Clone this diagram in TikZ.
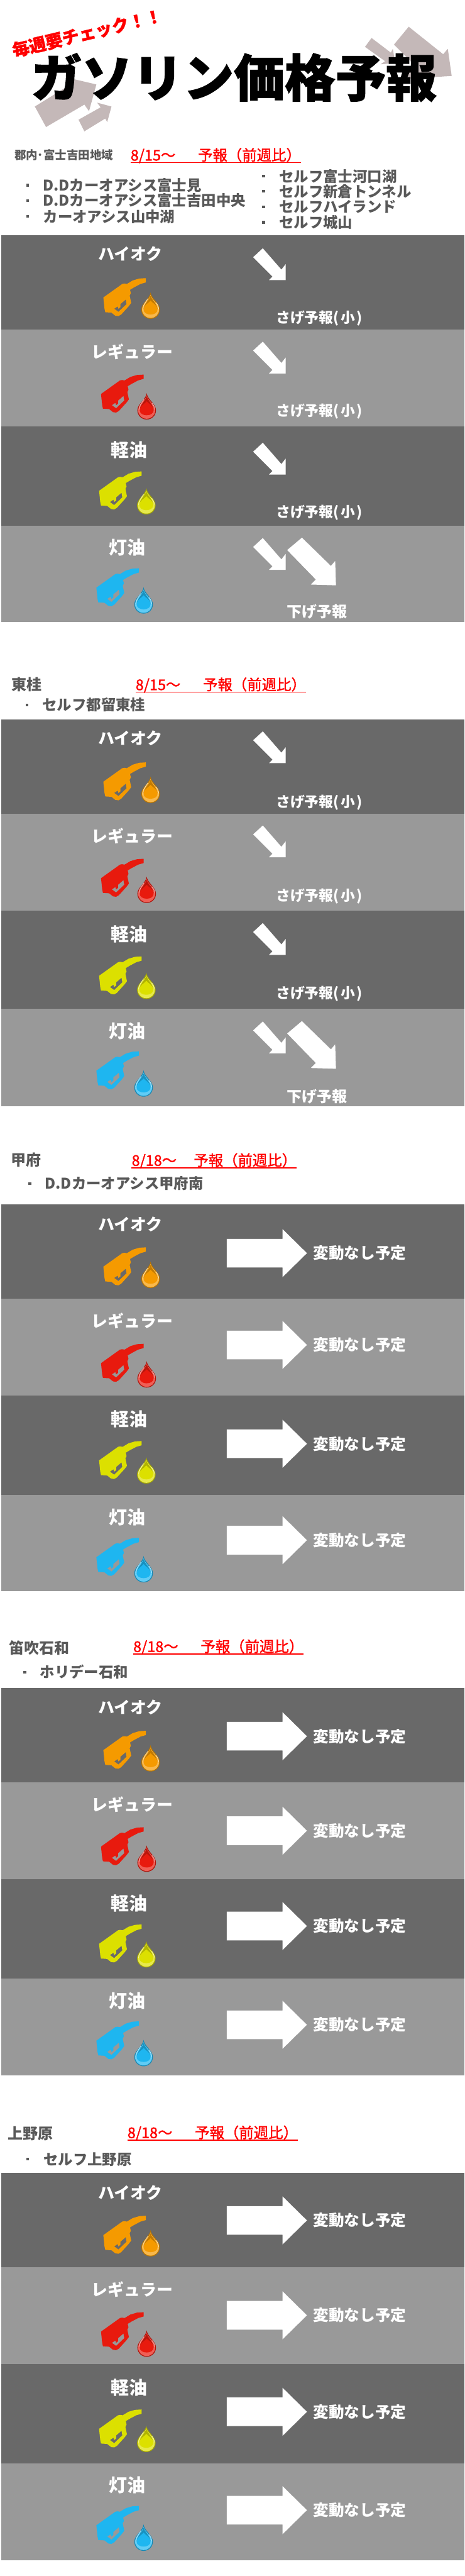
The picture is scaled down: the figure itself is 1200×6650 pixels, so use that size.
\documentclass[tikz,border=0pt]{standalone}
\usepackage{fontspec}
\setmainfont{Noto Sans CJK JP}
\newfontfamily\heavyjp[BoldFeatures={FakeBold=1.5}]{Noto Sans CJK JP}
\newfontfamily\datejp[FakeBold=1.4]{Noto Sans CJK JP}
\definecolor{banddark}{HTML}{696969}
\definecolor{bandlight}{HTML}{999999}
\definecolor{txtgray}{HTML}{595959}
\definecolor{greyarrow}{HTML}{C4B8B8}
\definecolor{fuelhi}{HTML}{F59A00}
\definecolor{fuelreg}{HTML}{E81A0E}
\definecolor{fueldsl}{HTML}{DCE000}
\definecolor{fuelker}{HTML}{1EB6F0}
\tikzset{
  jpsize/.style={font=\fontsize{#1}{#1}\selectfont\bfseries,text height=0.88*#1 pt,text depth=0.12*#1 pt,inner sep=0pt},
  fuellabel/.style={jpsize=21,text=white},
  oillabel/.style={jpsize=23.5,text=white},
  downlabel/.style={jpsize=18.5,text=white,anchor=west},
  biglabel/.style={jpsize=19.5,text=white,anchor=west},
  flatlabel/.style={jpsize=20,text=white,anchor=west},
  arealabel/.style={jpsize=19.5,text=txtgray,anchor=west},
  shoplabel/.style={jpsize=19,text=txtgray,anchor=west},
  datelabel/.style={jpsize=19,font=\datejp\fontsize{19}{19}\selectfont,text=red,anchor=west},
  dateline/.style={draw=red,line width=1.3pt},
  dotmark/.style={fill=txtgray,minimum size=3.5pt,inner sep=0pt},
  pics/pump/.style={code={
    \fill[#1,even odd rule] (110,0) -- (110,11) -- (96,15) -- (79,24) -- (69,30) -- (71,39) -- (68,45) -- (72,64) -- (66,72) -- (46,94) -- (39,98) -- (31,97) -- (21,89) -- (5,88) -- (3,79) -- (0,50) -- (49,15) -- (54,14) -- (61,15) -- (76,6) -- (93,1) -- cycle
      (28,79) -- (37,73) -- (39,79) -- (44,75) -- (44,67) -- (58,55) -- (60,67) -- (39,87) -- cycle;
  }},
  pics/oildrop/.style={code={
    \fill[#1!75!black] (24,0) .. controls (22,16) and (0,28) .. (0,44) .. controls (0,58) and (11,68) .. (24,68) .. controls (37,68) and (48,58) .. (48,44) .. controls (48,28) and (26,16) .. (24,0) -- cycle;
    \fill[#1!70!white] (24,6) .. controls (22,18) and (2,29) .. (2,44) .. controls (2,57) and (12,66) .. (24,66) .. controls (36,66) and (46,57) .. (46,44) .. controls (46,29) and (26,18) .. (24,6) -- cycle;
    \fill[#1!80!black] (24,8) .. controls (22,18) and (8,28) .. (6,42) -- (42,42) .. controls (40,28) and (26,18) .. (24,8) -- cycle;
    \fill[#1] (24,21) .. controls (20,27) and (6,32) .. (6,44) .. controls (6,52) and (14,57) .. (24,57) .. controls (34,57) and (42,52) .. (42,44) .. controls (42,32) and (28,27) .. (24,21) -- cycle;
    \draw[white!70!#1,line width=0.6pt] (17,16) .. controls (12,24) and (4,32) .. (4,43);
    \draw[white!70!#1,line width=0.6pt] (38,26) .. controls (42,31) and (45,37) .. (45,43);
  }},
  pics/downsmall/.style={code={
    \fill[white] (0,23) -- (25,0) -- (73,55) -- (84,41) -- (84,82) -- (41,82) -- (50,73) -- cycle;
  }},
  pics/downbig/.style={code={
    \fill[white] (0,32) -- (38,0) -- (113,73) -- (124,60) -- (126,123) -- (61,121) -- (74,108) -- cycle;
  }},
  pics/flatarrow/.style={code={
    \fill[white] (0,-37) -- (144,-37) -- (144,-62) -- (207,0) -- (144,62) -- (144,37) -- (0,37) -- cycle;
  }}
}
\begin{document}
\begin{tikzpicture}[x=0.5pt,y=-0.5pt]
\useasboundingbox (0,0) rectangle (1200,6650);
% title
\fill[greyarrow] (90,275) -- (174,223) -- (181,202) -- (249,218) -- (230,287) -- (218,270) -- (119,328) -- cycle;
\fill[greyarrow] (203,309) -- (260,277) -- (251,265) -- (288,275) -- (277,315) -- (272,306) -- (218,339) -- cycle;
\fill[greyarrow] (1056,69) -- (1145,140) -- (1157,126) -- (1167,196) -- (1029,205) -- (1067,164) -- (1018,115) -- cycle;
\fill[greyarrow] (960,98) -- (1010,136) -- (1015,126) -- (1021,163) -- (983,166) -- (995,158) -- (943,121) -- cycle;
\node [jpsize=65.5, anchor=west] (title) at (80,200) {\heavyjp\bfseries ガソリン価格予報};
\node [jpsize=22, text=red, rotate=13.4] (weekly) at (225,85) {\heavyjp\bfseries 毎週要チェック！！};
% section 1
\node [jpsize=15, text=txtgray, anchor=west] (area1) at (37,400) {郡内･富士吉田地域};
\node [datelabel] (date1) at (337,400) {8/15～\hspace{29pt}予報（前週比）\hspace{5pt}};
\draw [dateline] (date1.south west) -- (date1.south east);
\node [dotmark] (dot1a) at (71,478) {};
\node [shoplabel] (shop1a) at (111,478) {D.Dカーオアシス富士見};
\node [dotmark] (dot1b) at (71,518) {};
\node [shoplabel] (shop1b) at (111,518) {D.Dカーオアシス富士吉田中央};
\node [dotmark] (dot1c) at (71,559) {};
\node [shoplabel] (shop1c) at (111,559) {カーオアシス山中湖};
\node [dotmark] (dot1d) at (681,455) {};
\node [shoplabel] (shop1d) at (721,455) {セルフ富士河口湖};
\node [dotmark] (dot1e) at (681,494) {};
\node [shoplabel] (shop1e) at (721,494) {セルフ新倉トンネル};
\node [dotmark] (dot1f) at (681,534) {};
\node [shoplabel] (shop1f) at (721,534) {セルフハイランド};
\node [dotmark] (dot1g) at (681,574) {};
\node [shoplabel] (shop1g) at (721,574) {セルフ城山};
\fill [banddark] (4,607) rectangle (1200,851);
\fill [bandlight] (4,851) rectangle (1200,1101);
\fill [banddark] (4,1101) rectangle (1200,1357);
\fill [bandlight] (4,1357) rectangle (1200,1606);
\node [fuellabel] (hi1) at (337,656) {ハイオク};
\pic at (267,718) {pump=fuelhi};
\pic at (365,755) {oildrop=fuelhi};
\pic at (654,641) {downsmall};
\node [downlabel] (say1a) at (713,820) {さげ予報(\kern2pt 小\kern2pt )};
\node [fuellabel] (reg1) at (342,908) {レギュラー};
\pic at (261,967) {pump=fuelreg};
\pic at (355,1015) {oildrop=fuelreg};
\pic at (654,882) {downsmall};
\node [downlabel] (say1b) at (713,1060) {さげ予報(\kern2pt 小\kern2pt )};
\node [oillabel] (dsl1) at (334,1162) {軽油};
\pic at (256,1217) {pump=fueldsl};
\pic at (354,1260) {oildrop=fueldsl};
\pic at (654,1143) {downsmall};
\node [downlabel] (say1c) at (713,1321) {さげ予報(\kern2pt 小\kern2pt )};
\node [oillabel] (ker1) at (329,1414) {灯油};
\pic at (249,1467) {pump=fuelker};
\pic at (347,1516) {oildrop=fuelker};
\pic at (654,1389) {downsmall};
\pic at (742,1388) {downbig};
\node [biglabel] (say1d) at (741,1579) {下げ予報};
% section 2
\node [arealabel] (area2) at (29,1767) {東桂};
\node [datelabel] (date2) at (350,1767) {8/15～\hspace{29pt}予報（前週比）\hspace{5pt}};
\draw [dateline] (date2.south west) -- (date2.south east);
\node [dotmark] (dot2a) at (70,1820) {};
\node [shoplabel] (shop2a) at (109,1820) {セルフ都留東桂};
\fill [banddark] (4,1857) rectangle (1200,2101);
\fill [bandlight] (4,2101) rectangle (1200,2351);
\fill [banddark] (4,2351) rectangle (1200,2604);
\fill [bandlight] (4,2604) rectangle (1200,2856);
\node [fuellabel] (hi2) at (337,1906) {ハイオク};
\pic at (267,1968) {pump=fuelhi};
\pic at (365,2005) {oildrop=fuelhi};
\pic at (654,1888) {downsmall};
\node [downlabel] (say2a) at (713,2069) {さげ予報(\kern2pt 小\kern2pt )};
\node [fuellabel] (reg2) at (342,2158) {レギュラー};
\pic at (261,2217) {pump=fuelreg};
\pic at (355,2263) {oildrop=fuelreg};
\pic at (654,2131) {downsmall};
\node [downlabel] (say2b) at (713,2311) {さげ予報(\kern2pt 小\kern2pt )};
\node [oillabel] (dsl2) at (334,2412) {軽油};
\pic at (256,2469) {pump=fueldsl};
\pic at (354,2511) {oildrop=fueldsl};
\pic at (654,2383) {downsmall};
\node [downlabel] (say2c) at (713,2563) {さげ予報(\kern2pt 小\kern2pt )};
\node [oillabel] (ker2) at (329,2661) {灯油};
\pic at (249,2714) {pump=fuelker};
\pic at (347,2763) {oildrop=fuelker};
\pic at (654,2637) {downsmall};
\pic at (742,2636) {downbig};
\node [biglabel] (say2d) at (741,2830) {下げ予報};
% section 3
\node [arealabel] (area3) at (28,2995) {甲府};
\node [datelabel] (date3) at (340,2995) {8/18～\hspace{22pt}予報（前週比）\hspace{5pt}};
\draw [dateline] (date3.south west) -- (date3.south east);
\node [dotmark] (dot3a) at (77,3055) {};
\node [shoplabel] (shop3a) at (116,3055) {D.Dカーオアシス甲府南};
\fill [banddark] (4,3109) rectangle (1200,3353);
\fill [bandlight] (4,3353) rectangle (1200,3603);
\fill [banddark] (4,3603) rectangle (1200,3859);
\fill [bandlight] (4,3859) rectangle (1200,4107);
\node [fuellabel] (hi3) at (337,3160) {ハイオク};
\pic at (267,3220) {pump=fuelhi};
\pic at (365,3257) {oildrop=fuelhi};
\pic at (586,3235) {flatarrow};
\node [flatlabel] (say3a) at (809,3235) {変動なし予定};
\node [fuellabel] (reg3) at (342,3411) {レギュラー};
\pic at (261,3469) {pump=fuelreg};
\pic at (355,3514) {oildrop=fuelreg};
\pic at (586,3472) {flatarrow};
\node [flatlabel] (say3b) at (809,3472) {変動なし予定};
\node [oillabel] (dsl3) at (334,3664) {軽油};
\pic at (256,3720) {pump=fueldsl};
\pic at (354,3762) {oildrop=fueldsl};
\pic at (586,3727) {flatarrow};
\node [flatlabel] (say3c) at (809,3727) {変動なし予定};
\node [oillabel] (ker3) at (329,3916) {灯油};
\pic at (249,3970) {pump=fuelker};
\pic at (347,4017) {oildrop=fuelker};
\pic at (586,3976) {flatarrow};
\node [flatlabel] (say3d) at (809,3976) {変動なし予定};
% section 4
\node [arealabel] (area4) at (23,4254) {笛吹石和};
\node [datelabel] (date4) at (344,4250) {8/18～\hspace{29pt}予報（前週比）\hspace{5pt}};
\draw [dateline] (date4.south west) -- (date4.south east);
\node [dotmark] (dot4a) at (64,4317) {};
\node [shoplabel] (shop4a) at (103,4317) {ホリデー石和};
\fill [banddark] (4,4357) rectangle (1200,4601);
\fill [bandlight] (4,4601) rectangle (1200,4851);
\fill [banddark] (4,4851) rectangle (1200,5107);
\fill [bandlight] (4,5107) rectangle (1200,5357);
\node [fuellabel] (hi4) at (337,4408) {ハイオク};
\pic at (267,4468) {pump=fuelhi};
\pic at (365,4505) {oildrop=fuelhi};
\pic at (586,4482) {flatarrow};
\node [flatlabel] (say4a) at (809,4482) {変動なし予定};
\node [fuellabel] (reg4) at (342,4659) {レギュラー};
\pic at (261,4717) {pump=fuelreg};
\pic at (355,4764) {oildrop=fuelreg};
\pic at (586,4726) {flatarrow};
\node [flatlabel] (say4b) at (809,4726) {変動なし予定};
\node [oillabel] (dsl4) at (334,4913) {軽油};
\pic at (256,4968) {pump=fueldsl};
\pic at (354,5011) {oildrop=fueldsl};
\pic at (586,4972) {flatarrow};
\node [flatlabel] (say4c) at (809,4972) {変動なし予定};
\node [oillabel] (ker4) at (329,5166) {灯油};
\pic at (249,5218) {pump=fuelker};
\pic at (347,5266) {oildrop=fuelker};
\pic at (586,5227) {flatarrow};
\node [flatlabel] (say4d) at (809,5227) {変動なし予定};
% section 5
\node [arealabel] (area5) at (20,5507) {上野原};
\node [datelabel] (date5) at (329,5505) {8/18～\hspace{29pt}予報（前週比）\hspace{5pt}};
\draw [dateline] (date5.south west) -- (date5.south east);
\node [dotmark] (dot5a) at (71,5574) {};
\node [shoplabel] (shop5a) at (112,5574) {セルフ上野原};
\fill [banddark] (4,5609) rectangle (1200,5853);
\fill [bandlight] (4,5853) rectangle (1200,6103);
\fill [banddark] (4,6103) rectangle (1200,6359);
\fill [bandlight] (4,6359) rectangle (1200,6609);
\node [fuellabel] (hi5) at (337,5660) {ハイオク};
\pic at (267,5720) {pump=fuelhi};
\pic at (365,5757) {oildrop=fuelhi};
\pic at (586,5732) {flatarrow};
\node [flatlabel] (say5a) at (809,5732) {変動なし予定};
\node [fuellabel] (reg5) at (342,5911) {レギュラー};
\pic at (261,5969) {pump=fuelreg};
\pic at (355,6016) {oildrop=fuelreg};
\pic at (586,5977) {flatarrow};
\node [flatlabel] (say5b) at (809,5977) {変動なし予定};
\node [oillabel] (dsl5) at (334,6164) {軽油};
\pic at (256,6220) {pump=fueldsl};
\pic at (354,6262) {oildrop=fueldsl};
\pic at (586,6226) {flatarrow};
\node [flatlabel] (say5c) at (809,6226) {変動なし予定};
\node [oillabel] (ker5) at (329,6416) {灯油};
\pic at (249,6469) {pump=fuelker};
\pic at (347,6517) {oildrop=fuelker};
\pic at (586,6480) {flatarrow};
\node [flatlabel] (say5d) at (809,6480) {変動なし予定};
\end{tikzpicture}
\end{document}
